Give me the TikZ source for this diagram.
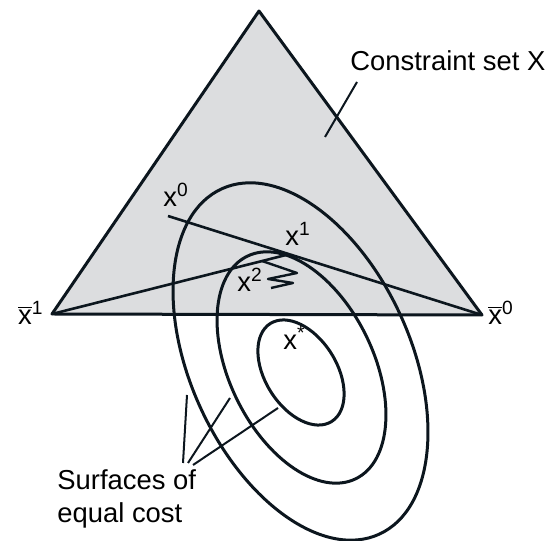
\documentclass[tikz,border=0pt]{standalone}
\usepackage{fontspec}
\setmainfont{Liberation Sans}
\usetikzlibrary{calc}
\definecolor{setgray}{RGB}{220,221,223}
\definecolor{inkline}{RGB}{12,22,30}
\newcommand{\xbar}{\ensuremath{\overline{\mbox{x}}}}

\begin{document}
\begin{tikzpicture}[x=0.5pt, y=0.5pt, line join=round,
  every node/.style={font=\fontsize{13.7}{16.5}\selectfont, inner sep=0pt},
  edge/.style={inkline, line width=1.5pt},
  leader/.style={inkline, line width=1pt}]
  \useasboundingbox (0,0) rectangle (548,541);
  \coordinate (top) at (259,530);
  \coordinate (xb1) at (52,227);
  \coordinate (xb0) at (482,226);
  \coordinate (x0) at (168,325);
  \coordinate (x1) at (286,286);
  \coordinate (x2) at (262,280);
  \filldraw[edge, fill=setgray] (xb1) -- (top) -- (xb0) -- cycle;
  \draw[edge] (300.5,179.5) circle[x radius=94.9pt, y radius=55.1pt, rotate=-65.5];
  \draw[edge] (301.5,173.5) circle[x radius=61.9pt, y radius=36pt, rotate=-64];
  \draw[edge] (301,168.5) circle[x radius=28.9pt, y radius=17.9pt, rotate=-58];
  \draw[edge, line width=1.3pt] (x0) -- (xb0);
  \draw[edge, line width=1.3pt] (xb1) -- (x1);
  \draw[edge, line width=1.2pt] (x2) -- (297,268) -- (268,262) -- (293,258) -- (271,253);
  \node[anchor=base west] (setlbl) at (350,470) {Constraint set X};
  \node[anchor=base east] (xb1lbl) at (44,216) {\xbar\textsuperscript{1}};
  \node[anchor=base west] (xb0lbl) at (488,216) {\xbar\textsuperscript{0}};
  \node[anchor=base west] (x0lbl) at (163,334) {x\textsuperscript{0}};
  \node[anchor=base west] (x1lbl) at (285,295) {x\textsuperscript{1}};
  \node[anchor=base west] (x2lbl) at (237,249) {x\textsuperscript{2}};
  \node[anchor=base west] (xstar) at (283,191) {x\textsuperscript{*}};
  \node[anchor=base west, align=left] (costlbl) at (57,18) {Surfaces of\\equal cost};
  \coordinate (setfrom) at (357,459);
  \coordinate (setto) at (325,404);
  \draw[leader] (setfrom) -- (setto);
  \coordinate (c1) at (187,146);
  \coordinate (c2) at (230,143);
  \coordinate (c3) at (278,133);
  \draw[leader] (c1) -- (183,78);
  \draw[leader] (c2) -- (188,78);
  \draw[leader] (c3) -- (193,76);
\end{tikzpicture}
\end{document}
